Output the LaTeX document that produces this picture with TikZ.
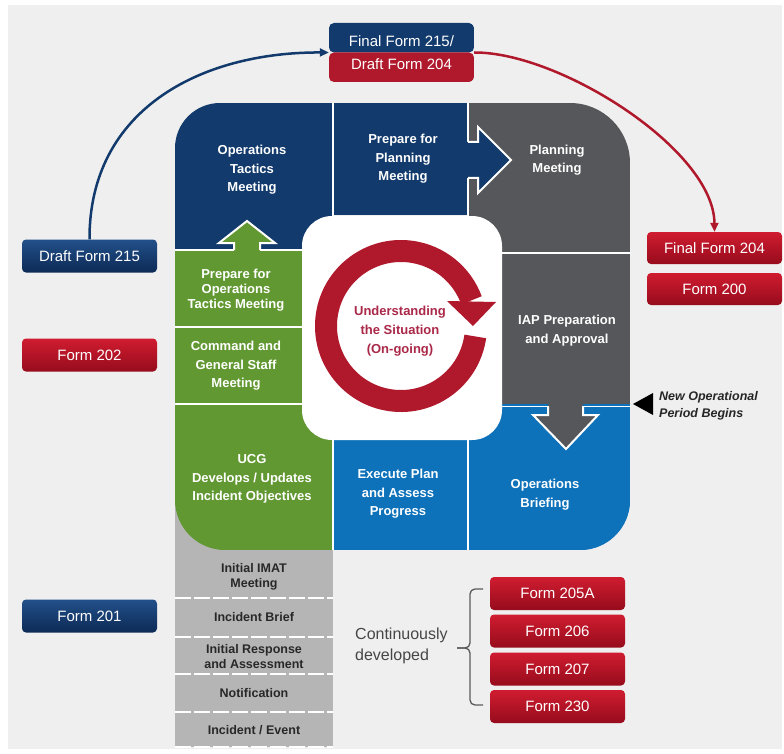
\documentclass[tikz,border=0pt]{standalone}
\usepackage{fontspec}
\setmainfont{Liberation Sans}
\usetikzlibrary{arrows.meta}
\definecolor{bgc}{RGB}{239,239,239}
\definecolor{navyc}{RGB}{18,58,108}
\definecolor{navytop}{RGB}{34,80,138}
\definecolor{navybot}{RGB}{12,42,85}
\definecolor{lblue}{RGB}{14,114,186}
\definecolor{dgray}{RGB}{86,87,91}
\definecolor{greenc}{RGB}{98,152,50}
\definecolor{redc}{RGB}{176,24,44}
\definecolor{redtop}{RGB}{208,28,48}
\definecolor{redbot}{RGB}{150,12,28}
\definecolor{stackc}{RGB}{181,181,181}
\definecolor{stacktxt}{RGB}{40,40,40}
\definecolor{ringtxt}{RGB}{170,40,72}
\definecolor{bracec}{RGB}{90,90,90}
\definecolor{conttxt}{RGB}{70,70,70}
\tikzset{
  cell/.style={text=white, font=\fontsize{13}{18.5}\selectfont\bfseries, align=center, inner sep=0pt},
  celltight/.style={cell, font=\fontsize{13}{15}\selectfont\bfseries},
  stacktext/.style={text=stacktxt, font=\fontsize{12.5}{15.5}\selectfont\bfseries, align=center, inner sep=0pt},
  ringtext/.style={text=ringtxt, font=\fontsize{13}{19}\selectfont\bfseries, align=center, inner sep=0pt},
  formr/.style={rounded corners=4pt, top color=redtop, bottom color=redbot, text=white,
    font=\fontsize{15}{18}\selectfont, minimum width=135pt, minimum height=33pt, inner sep=0pt},
  formb/.style={formr, top color=navytop, bottom color=navybot},
  sepline/.style={white, line width=2.5pt},
  outl/.style={white, line width=2pt, line join=miter},
  flow/.style={line width=2.5pt, -{Triangle[length=9pt,width=8pt]}},
}
\begin{document}
\begin{tikzpicture}[x=1pt,y=1pt,yscale=-1]
\useasboundingbox (0,0) rectangle (784,754);
\fill[white] (0,0) rectangle (784,754);
\fill[bgc] (8,5) rectangle (782,749);

% gray stack
\fill[stackc] (175,497) rectangle (333,747);
\foreach \yy in {598,637,674,712,747}
  \draw[white, line width=1.6pt, dash pattern=on 16pt off 3pt] (175,\yy) -- (333,\yy);

% main cycle block
\begin{scope}
\clip (175,148) arc[start angle=180,end angle=270,radius=45pt] -- (570,103)
  arc[start angle=270,end angle=360,radius=60pt] -- (630,500)
  arc[start angle=0,end angle=90,radius=50pt] -- (225,550)
  arc[start angle=90,end angle=180,radius=50pt] -- cycle;
\fill[navyc] (175,103) rectangle (333,250);
\fill[navyc] (333,103) rectangle (468,215);
\fill[dgray] (468,103) rectangle (630,406);
\fill[greenc] (175,250) rectangle (333,550);
\fill[lblue] (333,404) rectangle (630,550);
\fill[lblue] (468,406) rectangle (630,550);
\draw[sepline] (333,100) -- (333,216);
\draw[sepline] (468,100) -- (468,216);
\draw[sepline] (172,250) -- (305,250);
\draw[sepline] (172,327) -- (305,327);
\draw[sepline] (172,404) -- (305,404);
\draw[sepline] (333,438) -- (333,553);
\draw[sepline] (468,438) -- (468,553);
\draw[sepline] (500,253) -- (633,253);
\draw[white, line width=1pt] (500,406) -- (633,406);
\end{scope}

% center white square
\fill[white, rounded corners=30pt] (302,216) rectangle (502,440);

% block arrows
\fill[navyc] (460,142) -- (478,142) -- (478,127) -- (511,160) -- (478,193) -- (478,178) -- (460,178) -- cycle;
\draw[outl] (468,142) -- (478,142) -- (478,127) -- (511,160) -- (478,193) -- (478,178) -- (468,178);
\fill[greenc] (234,257) -- (234,243) -- (219,243) -- (247,221) -- (275,243) -- (260,243) -- (260,257) -- cycle;
\draw[outl] (234,250) -- (234,243) -- (219,243) -- (247,221) -- (275,243) -- (260,243) -- (260,250);
\fill[dgray] (548,398) -- (548,415) -- (533,415) -- (566,449) -- (598,415) -- (583,415) -- (583,398) -- cycle;
\draw[outl] (548,406) -- (548,415) -- (533,415) -- (566,449) -- (598,415) -- (583,415) -- (583,406);

% red ring arrow
\draw[redc, line width=22pt] (401,326) ++(8:75) arc[start angle=8, end angle=340, radius=75pt];
\fill[redc] (447,301) -- (496,302) -- (473,326) -- cycle;

% cell texts
\node[cell] (opstac) at (252,170) {Operations\\Tactics\\Meeting};
\node[cell] (prepplan) at (403,159) {Prepare for\\Planning\\Meeting};
\node[cell] (planmeet) at (557,160) {Planning\\Meeting};
\node[celltight] (prepops) at (236,290) {Prepare for\\Operations\\Tactics Meeting};
\node[cell] (cmdgs) at (236,366) {Command and\\General Staff\\Meeting};
\node[cell] (iap) at (567,330.5) {IAP Preparation\\and Approval};
\node[cell] (ucg) at (252,479) {UCG\\Develops / Updates\\Incident Objectives};
\node[cell] (exec) at (398,494) {Execute Plan\\and Assess\\Progress};
\node[cell] (opsbrief) at (545,494.5) {Operations\\Briefing};
\node[ringtext] (und) at (400,331) {Understanding\\the Situation\\(On-going)};

% stack texts
\node[stacktext] (imat) at (254,577) {Initial IMAT\\Meeting};
\node[stacktext] (brief) at (254,617) {Incident Brief};
\node[stacktext] (resp) at (254,656.5) {Initial Response\\and Assessment};
\node[stacktext] (notif) at (254,693) {Notification};
\node[stacktext] (event) at (254,730) {Incident / Event};

% forms
\node[minimum width=145pt, minimum height=59pt, inner sep=0pt, rounded corners=5pt,
  path picture={\fill[navyc] (path picture bounding box.north west) rectangle (path picture bounding box.east);
                \fill[redc] (path picture bounding box.west) rectangle (path picture bounding box.south east);},
  text=white, align=center, font=\fontsize{15}{23}\selectfont] (top) at (401.5,52.5) {Final Form 215/\\Draft Form 204};
\node[formb] (draft215) at (89.5,256) {Draft Form 215};
\node[formr] (f202) at (89.5,355) {Form 202};
\node[formb] (f201) at (89.5,616) {Form 201};
\node[formr, minimum height=32pt] (final204) at (714.5,248) {Final Form 204};
\node[formr, minimum height=32pt] (f200) at (714.5,289) {Form 200};
\node[formr] (f205a) at (557.5,593.5) {Form 205A};
\node[formr] (f206) at (557.5,631) {Form 206};
\node[formr] (f207) at (557.5,669) {Form 207};
\node[formr] (f230) at (557.5,706.5) {Form 230};

% flow connectors
\draw[flow, navyc] (draft215.north) .. controls (89,110) and (200,52) .. (top.west);
\draw[flow, redc] (top.east) .. controls (560,52) and (714,150) .. (final204.north);

% brace and label
\draw[bracec, line width=1.3pt, rounded corners=5pt] (483,589) -| (470,648) -- (457,648);
\draw[bracec, line width=1.3pt, rounded corners=5pt] (457,648) -- (470,648) |- (483,705);
\node[anchor=west, align=left, inner sep=0pt, text=conttxt, font=\fontsize{16}{21}\selectfont] (cont) at (355,646) {Continuously\\developed};

% new operational period
\fill[black] (633,404) -- (653,393) -- (653,415) -- cycle;
\node[anchor=west, align=left, inner sep=0pt, text=black!85, font=\fontsize{12.5}{17}\selectfont\bfseries\itshape] (newop) at (659,406) {New Operational\\Period Begins};
\end{tikzpicture}
\end{document}
